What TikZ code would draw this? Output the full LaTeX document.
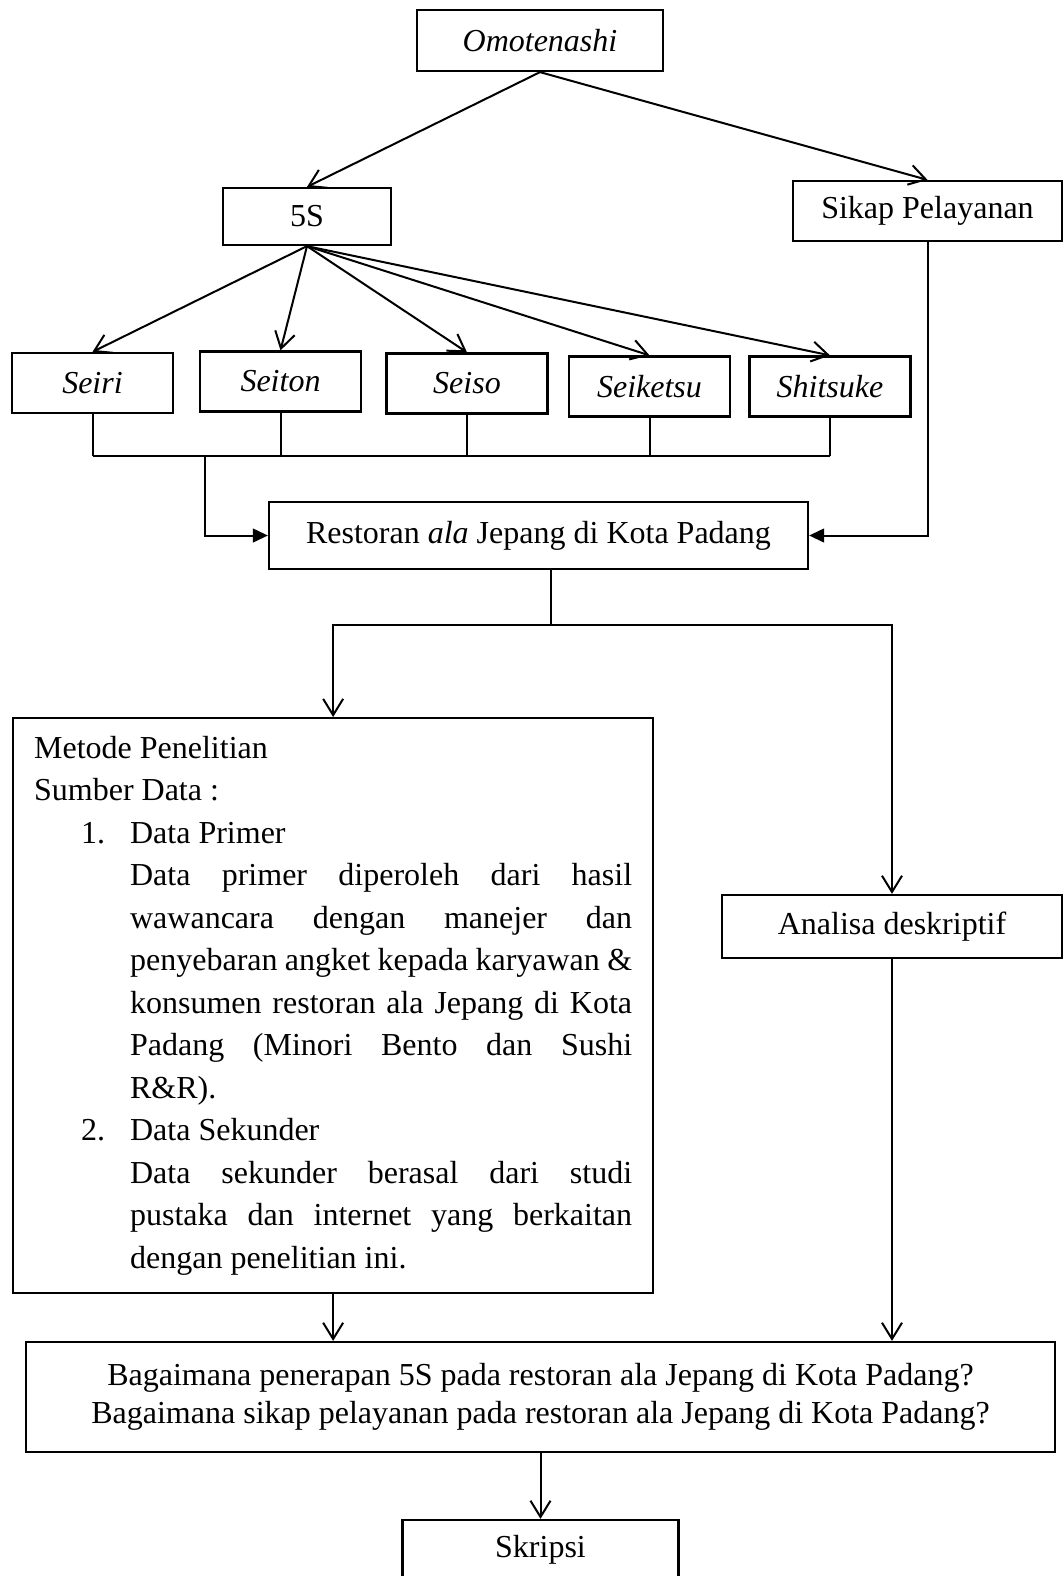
\documentclass[tikz,border=0pt]{standalone}
\usepackage{fontspec}
\setmainfont{Liberation Serif}
\usetikzlibrary{arrows.meta}
\tikzset{>={Straight Barb[length=6.5pt,width=8pt]}}
\tikzset{box/.style={draw, line width=0.9pt, inner sep=0pt, align=center, font=\fontsize{12.8pt}{17pt}\selectfont}}
\tikzset{kbox/.style={box, minimum width=64.4pt, minimum height=24pt, font=\fontsize{12.8pt}{17pt}\selectfont\itshape}}
\tikzset{link/.style={line width=0.8pt}}
\tikzset{tri/.style={-{Triangle[length=6pt,width=5.5pt]}}}

\begin{document}
\begin{tikzpicture}[x=0.4pt, y=-0.4pt]
        \useasboundingbox (0,0) rectangle (1062,1576);

        \node[box, minimum width=98.4pt, minimum height=24.4pt, font=\fontsize{12.8pt}{17pt}\selectfont\itshape] (omo) at (540,40.5) {Omotenashi};
        \node[box, minimum width=67.2pt, minimum height=22.8pt] (fives) at (307,216.5) {5S};
        \node[box, minimum width=107.6pt, minimum height=24pt] (sikap) at (927.5,211) {Sikap Pelayanan};

        \node[kbox] (seiri) at (92.5,383) {Seiri};
        \node[kbox] (seiton) at (280.5,381.5) {Seiton};
        \node[kbox] (seiso) at (467,383.5) {Seiso};
        \node[kbox] (seiketsu) at (649.5,386.5) {Seiketsu};
        \node[kbox] (shitsuke) at (830,386.5) {Shitsuke};

        \node[box, minimum width=215.6pt, minimum height=26.8pt] (resto) at (538.5,535.5) {Restoran \textit{ala} Jepang di Kota Padang};

        \node[box, anchor=north west, text width=239.2pt, inner xsep=8.4pt, minimum height=230pt, align=justify] (metode) at (12,717) {%
            \parindent=0pt
            Metode Penelitian\par
            Sumber Data :\par
            {\leftskip=38.4pt
            \noindent\llap{\makebox[19.6pt][l]{1.}}Data Primer\par
            Data primer diperoleh dari hasil\linebreak
            wawancara dengan manejer dan\linebreak
            penyebaran angket kepada karyawan \&\linebreak
            konsumen restoran ala Jepang di Kota\linebreak
            Padang (Minori Bento dan Sushi\linebreak
            R\&R).\par
            \noindent\llap{\makebox[19.6pt][l]{2.}}Data Sekunder\par
            Data sekunder berasal dari studi\linebreak
            pustaka dan internet yang berkaitan\linebreak
            dengan penelitian ini.\par}};

        \node[box, minimum width=136pt, minimum height=25.2pt] (analisa) at (892,926.5) {Analisa deskriptif};
        \node[box, minimum width=411.6pt, minimum height=44pt, font=\fontsize{12.8pt}{15.3pt}\selectfont] (tanya) at (540.5,1397) {Bagaimana penerapan 5S pada restoran ala Jepang di Kota Padang?\\ Bagaimana sikap pelayanan pada restoran ala Jepang di Kota Padang?};
        \node[box, minimum width=110.4pt, minimum height=24pt] (skripsi) at (540.5,1550) {Skripsi};

        % dari Omotenashi
        \draw[link,->] (omo.south) -- (fives.north);
        \draw[link,->] (omo.south) -- (sikap.north);
        \foreach \k in {seiri,seiton,seiso,seiketsu,shitsuke}
            \draw[link,->] (fives.south) -- (\k.north);

        % garis gabungan 5S
        \coordinate (busL) at (92.5,456);
        \coordinate (busR) at (830,456);
        \coordinate (drop) at (204.5,456);
        \draw[link] (busL) -- (busR);
        \foreach \k in {seiri,seiton,seiso,seiketsu,shitsuke}
            \draw[link] (\k.south) -- (\k.south |- busL);
        \draw[link,tri] (drop) |- (resto.west);
        \draw[link,tri] (sikap.south) |- (resto.east);

        % cabang ke metode dan analisa
        \coordinate (fork) at (551,625);
        \draw[link] (resto.south -| fork) -- (fork);
        \draw[link,->] (fork) -| (metode.north);
        \draw[link,->] (fork) -| (analisa.north);
        \draw[link,->] (metode.south) -- (metode.south |- tanya.north);
        \draw[link,->] (analisa.south) -- (analisa.south |- tanya.north);
        \draw[link,->] (tanya.south) -- (skripsi.north);
\end{tikzpicture}
\end{document}
